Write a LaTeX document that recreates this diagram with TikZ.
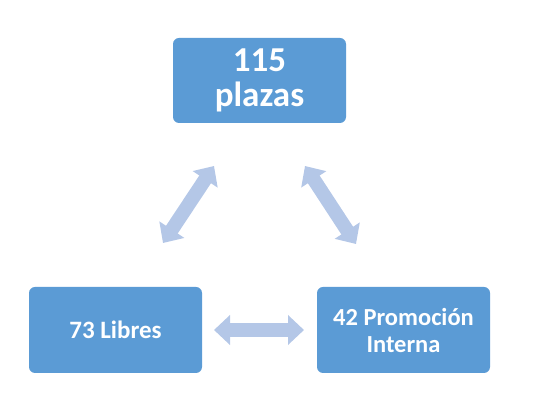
\documentclass[tikz,border=0pt]{standalone}
\usepackage{fontspec}
\setmainfont{Carlito}
\usetikzlibrary{arrows.meta}
\definecolor{boxblue}{HTML}{5B9BD5}
\definecolor{arrblue}{HTML}{B4C7E7}
\tikzset{
  box/.style={draw=none, fill=boxblue, rounded corners=6pt, minimum width=173pt, minimum height=86pt, inner sep=0pt, text=white, font=\bfseries, align=center},
  barrow/.style={line width=14pt, draw=arrblue, {Triangle[length=16pt,width=29pt]}-{Triangle[length=16pt,width=29pt]}}
}
\begin{document}
\begin{tikzpicture}[x=1pt,y=-1pt]
\useasboundingbox (0,0) rectangle (542,403);
\node[box, minimum height=85pt, font=\bfseries\fontsize{35}{35}\selectfont] (top) at (259.5,80.5) {115\\plazas};
\node[box, font=\bfseries\fontsize{25}{27}\selectfont] (left) at (115.5,330) {73 Libres};
\node[box, font=\bfseries\fontsize{24.5}{27}\selectfont] (right) at (403.5,330) {42 Promoción\\Interna};
\coordinate (l1) at (163,243);
\coordinate (l2) at (214,166);
\coordinate (r1) at (305,166);
\coordinate (r2) at (356,244);
\coordinate (h1) at (214,330);
\coordinate (h2) at (304,330);
\draw[barrow] (l1) -- (l2);
\draw[barrow] (r1) -- (r2);
\draw[barrow] (h1) -- (h2);
\end{tikzpicture}
\end{document}
